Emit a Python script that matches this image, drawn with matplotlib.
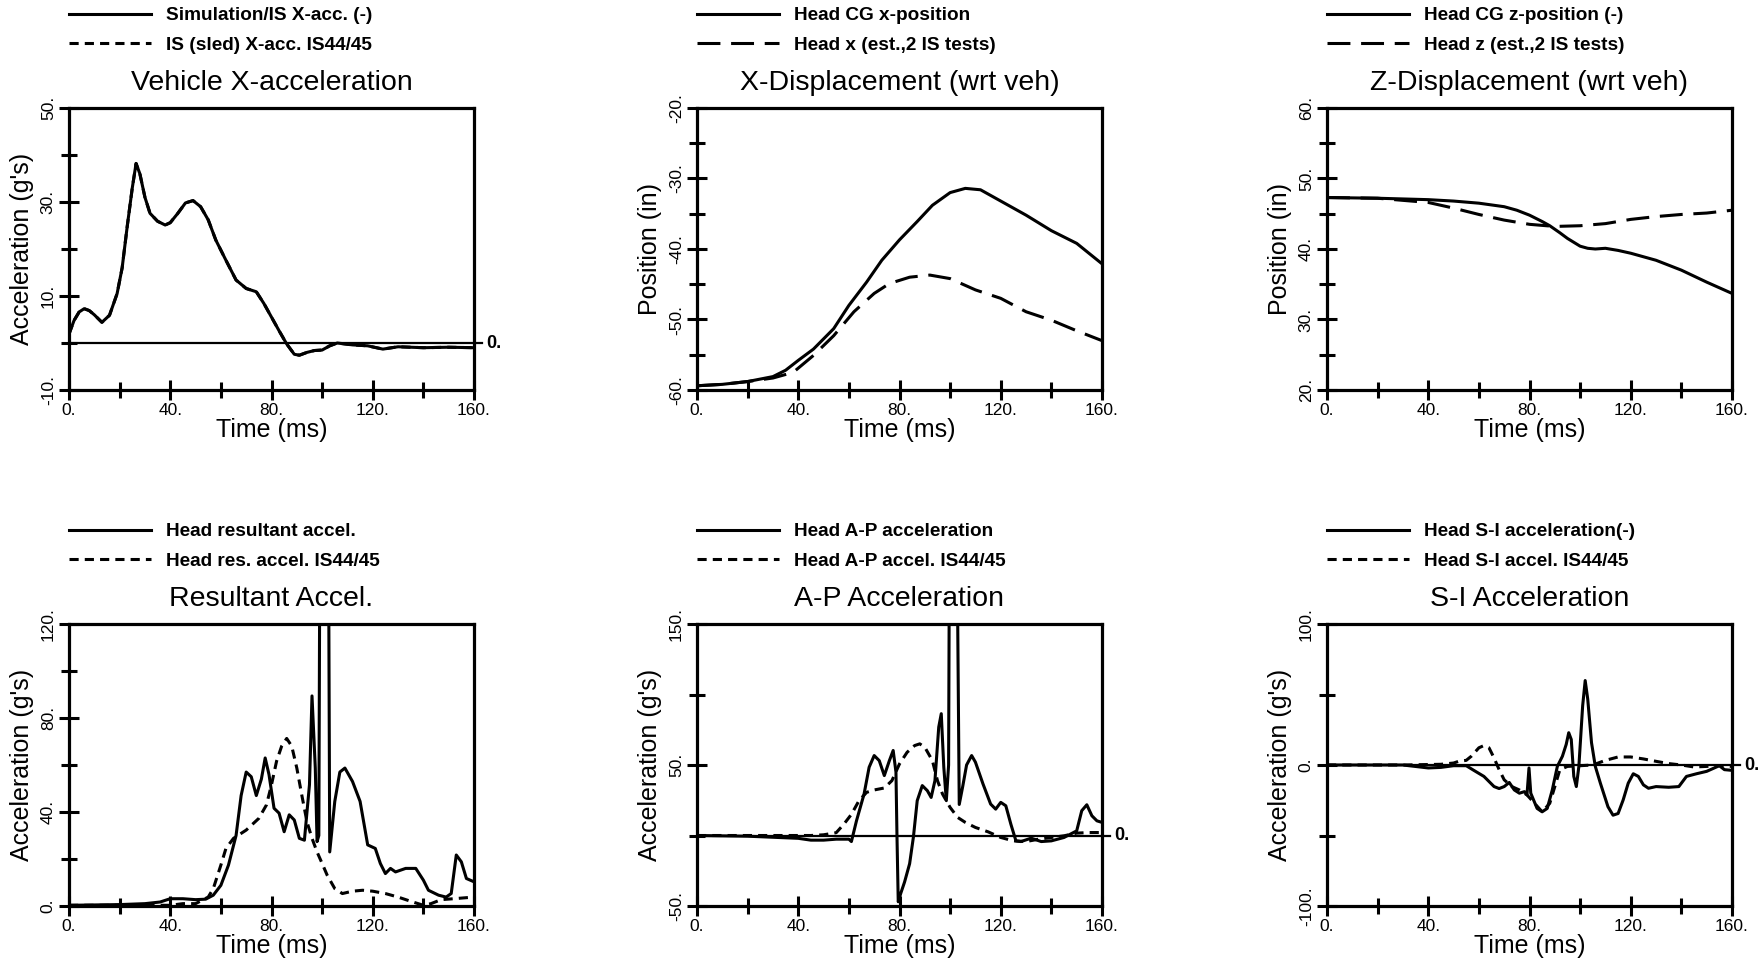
import matplotlib
matplotlib.use("Agg")
import matplotlib.pyplot as plt
from matplotlib.ticker import FixedLocator, FuncFormatter

plt.rcParams['font.family'] = ['Liberation Sans', 'DejaVu Sans']

# ---------------- data ----------------
# Panel 1: Vehicle X-acceleration
t_veh = [0, 2, 4, 6, 8, 10, 13, 16, 19, 21, 23, 25, 26.5, 28, 30, 32, 35, 38, 40, 43, 46, 49,
         52, 55, 58, 62, 66, 70, 74, 77, 80, 83, 86, 89, 91, 94, 97, 100, 103, 106, 112, 118,
         124, 130, 140, 150, 160]
acc_veh_sim = [1.9, 4.8, 6.6, 7.3, 6.9, 6.0, 4.4, 5.9, 10.5, 16, 24.8, 33, 38.2, 36, 31, 27.6,
               25.9, 25.1, 25.6, 27.6, 29.8, 30.3, 29, 26.2, 21.9, 17.6, 13.4, 11.6, 10.9, 8.4,
               5.5, 2.6, -0.2, -2.4, -2.6, -2, -1.6, -1.5, -0.6, 0, -0.4, -0.6, -1.3, -0.8,
               -1, -0.9, -1]
acc_veh_is = list(acc_veh_sim)  # sled test trace lies under the simulation input

# Panel 2: X-Displacement
t_xd = [0, 10, 20, 30, 35, 40, 46, 54, 60, 67, 73, 80, 87, 93, 100, 106, 112, 119, 130,
        140, 150, 160]
x_sim = [-59.4, -59.2, -58.8, -58.1, -57.2, -55.8, -54.2, -51.3, -48.0, -44.7, -41.6, -38.7,
         -36.1, -33.8, -32.0, -31.4, -31.6, -33.0, -35.2, -37.4, -39.2, -42.1]
t_xd_is = [0, 10, 20, 30, 38, 46, 54, 62, 70, 76, 84, 92, 100, 110, 120, 130, 140, 150, 160]
x_is = [-59.4, -59.2, -58.8, -58.3, -57.5, -55.1, -52.3, -48.9, -46.3, -44.9, -44.0, -43.7,
        -44.2, -45.8, -47.0, -48.9, -50.1, -51.6, -53.0]

# Panel 3: Z-Displacement
t_zd = [0, 20, 40, 50, 60, 70, 75, 80, 85, 88, 92, 95, 100, 103, 106, 110, 115, 120, 130,
        140, 150, 160]
z_sim = [47.3, 47.2, 47.0, 46.8, 46.5, 46.0, 45.5, 44.8, 43.9, 43.3, 42.3, 41.5, 40.4, 40.1,
         40.0, 40.1, 39.8, 39.4, 38.4, 37.0, 35.3, 33.7]
t_zd_is = [0, 20, 30, 40, 50, 60, 70, 80, 90, 100, 110, 120, 130, 140, 150, 160]
z_is = [47.3, 47.2, 46.9, 46.6, 45.8, 44.9, 44.1, 43.5, 43.2, 43.3, 43.6, 44.2, 44.6, 44.9,
        45.1, 45.5]

# Panel 4: Resultant acceleration
t_res = [0, 20, 30, 36, 40, 45, 50, 54, 57, 60, 63, 66, 68, 70, 72, 74, 76, 77.5, 79, 81, 83,
         85, 87, 89, 91, 93, 95, 96, 97.3, 98, 98.7, 99.4, 102.2, 103, 105, 107, 109, 112, 115,
         118, 121, 123, 125, 127, 129, 133, 137, 140, 142, 146, 149, 151, 153, 155, 157, 160]
res_sim = [0.3, 0.6, 1, 1.7, 3.1, 3.1, 2.7, 2.9, 4.6, 8.8, 17.4, 30, 47, 57, 55, 47, 54, 63, 56,
           41.6, 39.5, 31.6, 38.8, 36.6, 28.8, 28, 51.6, 89.4, 58.7, 27.4, 30, 250, 250, 23,
           44.5, 57, 58.7, 53, 44.5, 26, 24.5, 18.1, 13.8, 16, 14.5, 16, 16, 11, 6.7, 4.6, 3.8,
           5.3, 21.7, 18.8, 11.7, 10.3]
t_res_is = [0, 20, 40, 45, 50, 55, 57, 60, 62, 65, 70, 75, 78, 80, 82, 84, 86, 88, 90, 92, 94,
            96, 98, 100, 102, 105, 108, 112, 116, 120, 125, 130, 135, 140, 143, 147, 152, 160]
res_is = [0.3, 0.3, 0.3, 1, 1, 3.8, 7.4, 17.4, 24.5, 28.8, 32.3, 37.3, 43, 51.6, 61.6, 68, 71.3,
          68, 58.7, 47, 35.9, 28.8, 23, 18.1, 13.1, 7.4, 5.3, 6.3, 6.7, 6.3, 5.3, 3.8, 2, 0.3,
          1, 2.7, 3.1, 3.8]

# Panel 5: A-P acceleration
t_ap = [0, 20, 40, 45, 50, 55, 60, 61, 63, 66, 68, 70, 72, 74, 76, 77.5, 78.6, 79, 79.5, 80.5,
        82, 84, 85.5, 87, 89, 91, 92.5, 94, 95.5, 96.5, 97.5, 98.5, 99.4, 99.9, 102.3, 103.6,
        105, 106.5, 108.5, 110, 113, 116, 118, 120, 122, 124, 126, 128, 132, 136, 140, 145,
        150, 152, 154, 156, 158, 160]
ap_sim = [0, -0.5, -2, -3.3, -3.3, -2.6, -2.6, -4.3, 10.4, 29.4, 48.4, 56.7, 53.1, 42.5, 53.1,
          60.3, 45, 0, -47, -41, -33, -20, -1, 24.7, 35.4, 31.8, 27, 38.9, 76.9, 86.4, 48.4,
          24.7, 50, 300, 300, 22, 35, 50, 56.7, 52, 36.5, 22.3, 18.7, 23.5, 21.1, 8, -3.8, -4.3,
          -1.9, -4.3, -3.8, -1.4, 3.3, 17.6, 21.8, 14, 10.4, 9.3]
t_ap_is = [0, 20, 40, 45, 50, 55, 58, 61, 64, 67, 70, 74, 77, 80, 83, 86, 88, 90, 93, 95, 97,
           100, 103, 106, 110, 115, 120, 125, 130, 135, 140, 145, 150, 155, 160]
ap_is = [0, 0, 0, 0, 0.5, 2, 8, 15, 24.7, 30.6, 32.3, 33.7, 38.9, 50.8, 59, 63.8, 65, 62.6,
         53.1, 38.9, 29.4, 19.9, 12.8, 9.3, 5.7, 2.6, -1.4, -3.8, -4.3, -2.6, -1.4, -0.2, 1.7,
         2.1, 2.1]

# Panel 6: S-I acceleration
t_si = [0, 30, 40, 45, 50, 55, 58, 62, 66, 68, 70, 72, 74, 76, 78, 79, 79.8, 80.5, 83, 85, 87,
        89, 91, 93, 94.5, 95.5, 96.5, 97.5, 98.5, 99.5, 101, 102, 103, 104.5, 106, 108, 111, 113,
        115, 117, 119, 121, 123, 125, 127, 130, 135, 139, 142, 146, 150, 153, 155, 157, 160]
si_sim = [0, 0, -2.1, -1.7, -0.5, -0.5, -3.8, -8.1, -15.3, -16.7, -15.3, -12.4, -17.7, -20,
          -18.9, -21.2, -2.1, -20, -30.8, -33.2, -30.8, -17.7, -1, 6.2, 14.6, 22.9, 18.1, -8.1,
          -15.3, -1, 42, 59.9, 46.8, 15.8, -1, -12.9, -29.6, -35.6, -34.4, -24.8, -12.9, -6.2,
          -8.1, -14.1, -16.5, -15.3, -15.8, -15.3, -8.1, -6.2, -4.5, -2.1, -0.5, -3.3, -3.8]
t_si_is = [0, 30, 45, 50, 52, 55, 57, 60, 62, 64, 66, 68, 70, 73, 76, 79, 82, 85, 88, 90, 92,
           95, 100, 105, 110, 115, 120, 125, 130, 135, 140, 145, 150, 155, 160]
si_is = [0, 0, 0.5, 1.4, 2.6, 3.3, 6.2, 12.2, 13.8, 12.2, 5, -3.3, -10.5, -15.3, -17.7, -21.2,
         -27.2, -33.2, -27.2, -15.3, -3.3, -1, -0.5, 0, 3.3, 5.7, 5.7, 4.3, 2.6, 1, 0, -1.4, -1,
         -0.5, -1]

titles = ["Vehicle X-acceleration", "X-Displacement (wrt veh)", "Z-Displacement (wrt veh)",
          "Resultant Accel.", "A-P Acceleration", "S-I Acceleration"]
ylabels = ["Acceleration (g's)", "Position (in)", "Position (in)",
           "Acceleration (g's)", "Acceleration (g's)", "Acceleration (g's)"]
legend_labels = [("Simulation/IS X-acc. (-)", "IS (sled) X-acc. IS44/45"),
                 ("Head CG x-position", "Head x (est.,2 IS tests)"),
                 ("Head CG z-position (-)", "Head z (est.,2 IS tests)"),
                 ("Head resultant accel.", "Head res. accel. IS44/45"),
                 ("Head A-P acceleration", "Head A-P accel. IS44/45"),
                 ("Head S-I acceleration(-)", "Head S-I accel. IS44/45")]
ylims = [(-10, 50), (-60, -20), (20, 60), (0, 120), (-50, 150), (-100, 100)]
y_major_ticks = [[-10, 10, 30, 50], [-60, -50, -40, -30, -20], [20, 30, 40, 50, 60],
                 [0, 40, 80, 120], [-50, 50, 150], [-100, 0, 100]]
y_minor_ticks = [[0, 20, 40], [-55, -45, -35, -25], [25, 35, 45, 55],
                 [20, 60, 100], [0, 100], [-50, 50]]
x_major_ticks = [0, 40, 80, 120, 160]
x_minor_ticks = [20, 60, 100, 140]
zero_line = [True, False, False, False, True, True]

series = [((t_veh, acc_veh_sim), (t_veh, acc_veh_is)),
          ((t_xd, x_sim), (t_xd_is, x_is)),
          ((t_zd, z_sim), (t_zd_is, z_is)),
          ((t_res, res_sim), (t_res_is, res_is)),
          ((t_ap, ap_sim), (t_ap_is, ap_is)),
          ((t_si, si_sim), (t_si_is, si_is))]
short_dash = (0, (3.0, 2.0))
long_dash = (0, (7.5, 3.5))
dash_styles = [short_dash, long_dash, long_dash, short_dash, short_dash, short_dash]

# ---------------- figure ----------------
W, H = 1764, 963
fig = plt.figure(figsize=(W / 100, H / 100), dpi=100)
col_left = [69, 697, 1327]
row_top = [108, 624]
aw, ah = 405, 282

lw_data = 2.2
fmt = FuncFormatter(lambda v, p: f"{int(round(v))}.")

for i in range(6):
    r, c = divmod(i, 3)
    l, t = col_left[c], row_top[r]
    ax = fig.add_axes([l / W, 1 - (t + ah) / H, aw / W, ah / H])
    (ts, ys), (td, yd) = series[i]
    ax.plot(td, yd, color='black', lw=lw_data, linestyle=dash_styles[i], zorder=2,
            label=legend_labels[i][1])
    ax.plot(ts, ys, color='black', lw=lw_data, zorder=3, label=legend_labels[i][0])
    ax.set_xlim(0, 160)
    ax.set_ylim(*ylims[i])
    ax.xaxis.set_major_locator(FixedLocator(x_major_ticks))
    ax.xaxis.set_minor_locator(FixedLocator(x_minor_ticks))
    ax.yaxis.set_major_locator(FixedLocator(y_major_ticks[i]))
    ax.yaxis.set_minor_locator(FixedLocator(y_minor_ticks[i]))
    ax.xaxis.set_major_formatter(fmt)
    ax.yaxis.set_major_formatter(fmt)
    ax.tick_params(which='major', direction='inout', length=15, width=2.2, labelsize=12.5,
                   pad=2)
    ax.tick_params(which='minor', direction='inout', length=12, width=2.2)
    ax.tick_params(axis='y', labelrotation=90)
    for lab in ax.get_yticklabels():
        lab.set_va('center')
    for sp in ax.spines.values():
        sp.set_linewidth(2.3)
    if zero_line[i]:
        ax.axhline(0, xmin=0, xmax=1.02, color='black', lw=1.6, clip_on=False, zorder=1)
        ax.annotate("0.", xy=(1.03, 0), xycoords=('axes fraction', 'data'), fontsize=13,
                    fontweight='bold', va='center', ha='left', annotation_clip=False)
    ax.set_title(titles[i], fontsize=20.5, pad=13)
    ax.set_xlabel("Time (ms)", fontsize=18, labelpad=0)
    ax.set_ylabel(ylabels[i], fontsize=18, labelpad=5)
    h, lbl = ax.get_legend_handles_labels()
    ax.legend(h[::-1], lbl[::-1], loc='upper left', bbox_to_anchor=(0, 1 + 101 / ah),
              frameon=False, prop={'size': 13.7, 'weight': 'bold'}, handlelength=4.3,
              handletextpad=0.8, borderpad=0, borderaxespad=0, labelspacing=0.65)

fig.savefig("out.png", dpi=100)
